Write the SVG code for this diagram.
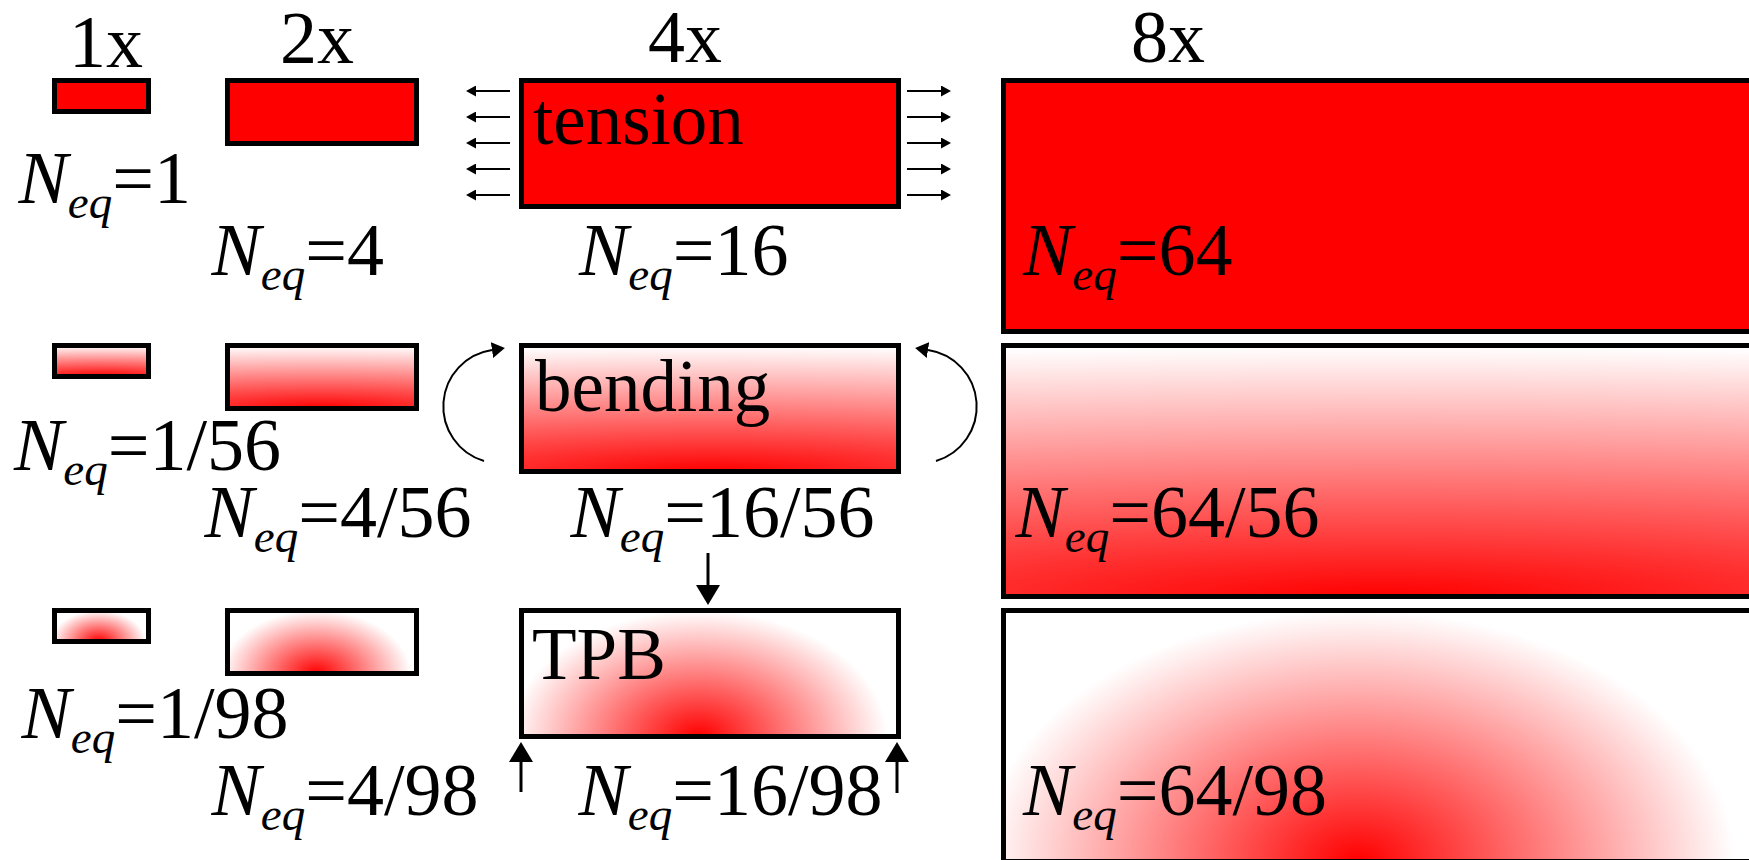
<svg xmlns="http://www.w3.org/2000/svg" width="1749" height="860" viewBox="0 0 1749 860" font-family="'Liberation Serif', 'DejaVu Serif', serif">
<style>
text{font-family:'Liberation Serif','DejaVu Serif',serif;fill:#000}
.hd{font-size:74px}
.lb{font-size:73px}
.nq{font-size:74px}
.it{font-style:italic}
.sb{font-style:italic;font-size:47px}
.box{stroke:#000;stroke-width:5}
.t{fill:#ff0000}
.b{fill:url(#gB)}
.p{fill:url(#gT)}
.a1{stroke:#000;stroke-width:2;fill:none;marker-end:url(#hS)}
.a2{stroke:#000;stroke-width:2;fill:none;marker-end:url(#hM)}
.a3{stroke:#000;stroke-width:3;fill:none;marker-end:url(#hL)}
</style>
<defs>
<radialGradient id="gB" cx="0.5" cy="1" r="1" gradientTransform="translate(0.5 1) scale(3 1) translate(-0.5 -1)">
<stop offset="0" stop-color="#ff0000"/>
<stop offset="1" stop-color="#ffffff"/>
</radialGradient>
<radialGradient id="gT" cx="0.47" cy="1" r="1" gradientTransform="translate(0.47 1) scale(0.5 1) translate(-0.47 -1)">
<stop offset="0" stop-color="#ff0000"/>
<stop offset="1" stop-color="#ffffff"/>
</radialGradient>
<marker id="hS" markerUnits="userSpaceOnUse" viewBox="0 0 10 11" refX="0" refY="5.5" markerWidth="10" markerHeight="11" orient="auto"><path d="M0,0 L10,5.5 L0,11 z" fill="#000"/></marker>
<marker id="hM" markerUnits="userSpaceOnUse" viewBox="0 0 13 16" refX="0" refY="8" markerWidth="13" markerHeight="16" orient="auto"><path d="M0,0 L13,8 L0,16 z" fill="#000"/></marker>
<marker id="hL" markerUnits="userSpaceOnUse" viewBox="0 0 20 24" refX="0" refY="12" markerWidth="20" markerHeight="24" orient="auto"><path d="M0,0 L20,12 L0,24 z" fill="#000"/></marker>
</defs>
<rect width="1749" height="860" fill="#fff"/>

<g id="headers">
<text class="hd" x="69" y="67">1x</text>
<text class="hd" x="280" y="63">2x</text>
<text class="hd" x="648" y="62">4x</text>
<text class="hd" x="1131" y="62">8x</text>
</g>

<g id="tension-1x"><rect class="box t" x="54.5" y="80.5" width="94" height="31"/>
<text class="nq" x="18.5" y="203"><tspan class="it">N</tspan><tspan class="sb" dy="15">eq</tspan><tspan dy="-15">=1</tspan></text></g>
<g id="tension-2x"><rect class="box t" x="227.5" y="80.5" width="189" height="63"/>
<text class="nq" x="211.5" y="275"><tspan class="it">N</tspan><tspan class="sb" dy="15">eq</tspan><tspan dy="-15">=4</tspan></text></g>
<g id="tension-4x"><rect class="box t" x="521.5" y="80.5" width="377" height="126"/>
<text class="lb" x="533" y="144">tension</text>
<text class="nq" x="579" y="275"><tspan class="it">N</tspan><tspan class="sb" dy="15">eq</tspan><tspan dy="-15">=16</tspan></text></g>
<g id="tension-8x"><rect class="box t" x="1003.5" y="80.5" width="754" height="251"/>
<text class="nq" x="1023" y="275"><tspan class="it">N</tspan><tspan class="sb" dy="15">eq</tspan><tspan dy="-15">=64</tspan></text></g>

<g id="bending-1x"><rect class="box b" x="54.5" y="345.5" width="94" height="31"/>
<text class="nq" x="14" y="470"><tspan class="it">N</tspan><tspan class="sb" dy="15">eq</tspan><tspan dy="-15">=1/56</tspan></text></g>
<g id="bending-2x"><rect class="box b" x="227.5" y="345.5" width="189" height="63"/>
<text class="nq" x="204.5" y="537"><tspan class="it">N</tspan><tspan class="sb" dy="15">eq</tspan><tspan dy="-15">=4/56</tspan></text></g>
<g id="bending-4x"><rect class="box b" x="521.5" y="345.5" width="377" height="126"/>
<text class="lb" x="535" y="411">bending</text>
<text class="nq" x="570.5" y="537"><tspan class="it">N</tspan><tspan class="sb" dy="15">eq</tspan><tspan dy="-15">=16/56</tspan></text></g>
<g id="bending-8x"><rect class="box b" x="1003.5" y="345.5" width="754" height="251"/>
<text class="nq" x="1015.5" y="537"><tspan class="it">N</tspan><tspan class="sb" dy="15">eq</tspan><tspan dy="-15">=64/56</tspan></text></g>

<g id="tpb-1x"><rect class="box p" x="54.5" y="610.5" width="94" height="31"/>
<text class="nq" x="21.5" y="738"><tspan class="it">N</tspan><tspan class="sb" dy="15">eq</tspan><tspan dy="-15">=1/98</tspan></text></g>
<g id="tpb-2x"><rect class="box p" x="227.5" y="610.5" width="189" height="63"/>
<text class="nq" x="211.5" y="815"><tspan class="it">N</tspan><tspan class="sb" dy="15">eq</tspan><tspan dy="-15">=4/98</tspan></text></g>
<g id="tpb-4x"><rect class="box p" x="521.5" y="610.5" width="377" height="126"/>
<text class="lb" x="532" y="679">TPB</text>
<text class="nq" x="578.5" y="815"><tspan class="it">N</tspan><tspan class="sb" dy="15">eq</tspan><tspan dy="-15">=16/98</tspan></text></g>
<g id="tpb-8x"><rect class="box p" x="1003.5" y="610.5" width="754" height="251"/>
<text class="nq" x="1023" y="815"><tspan class="it">N</tspan><tspan class="sb" dy="15">eq</tspan><tspan dy="-15">=64/98</tspan></text></g>

<g id="connectors">
<path class="a1" d="M510,91 H476"/>
<path class="a1" d="M510,117 H476"/>
<path class="a1" d="M510,143 H476"/>
<path class="a1" d="M510,169 H476"/>
<path class="a1" d="M510,195 H476"/>
<path class="a1" d="M907,91 H941"/>
<path class="a1" d="M907,117 H941"/>
<path class="a1" d="M907,143 H941"/>
<path class="a1" d="M907,169 H941"/>
<path class="a1" d="M907,195 H941"/>
<path class="a2" d="M484,461 A57,57 0 0 1 492,350"/>
<path class="a2" d="M936,461 A57,57 0 0 0 928,350"/>
<path class="a3" d="M708,553 V585"/>
<path class="a3" d="M521,792 V762"/>
<path class="a3" d="M897,793 V762"/>
</g>
</svg>
